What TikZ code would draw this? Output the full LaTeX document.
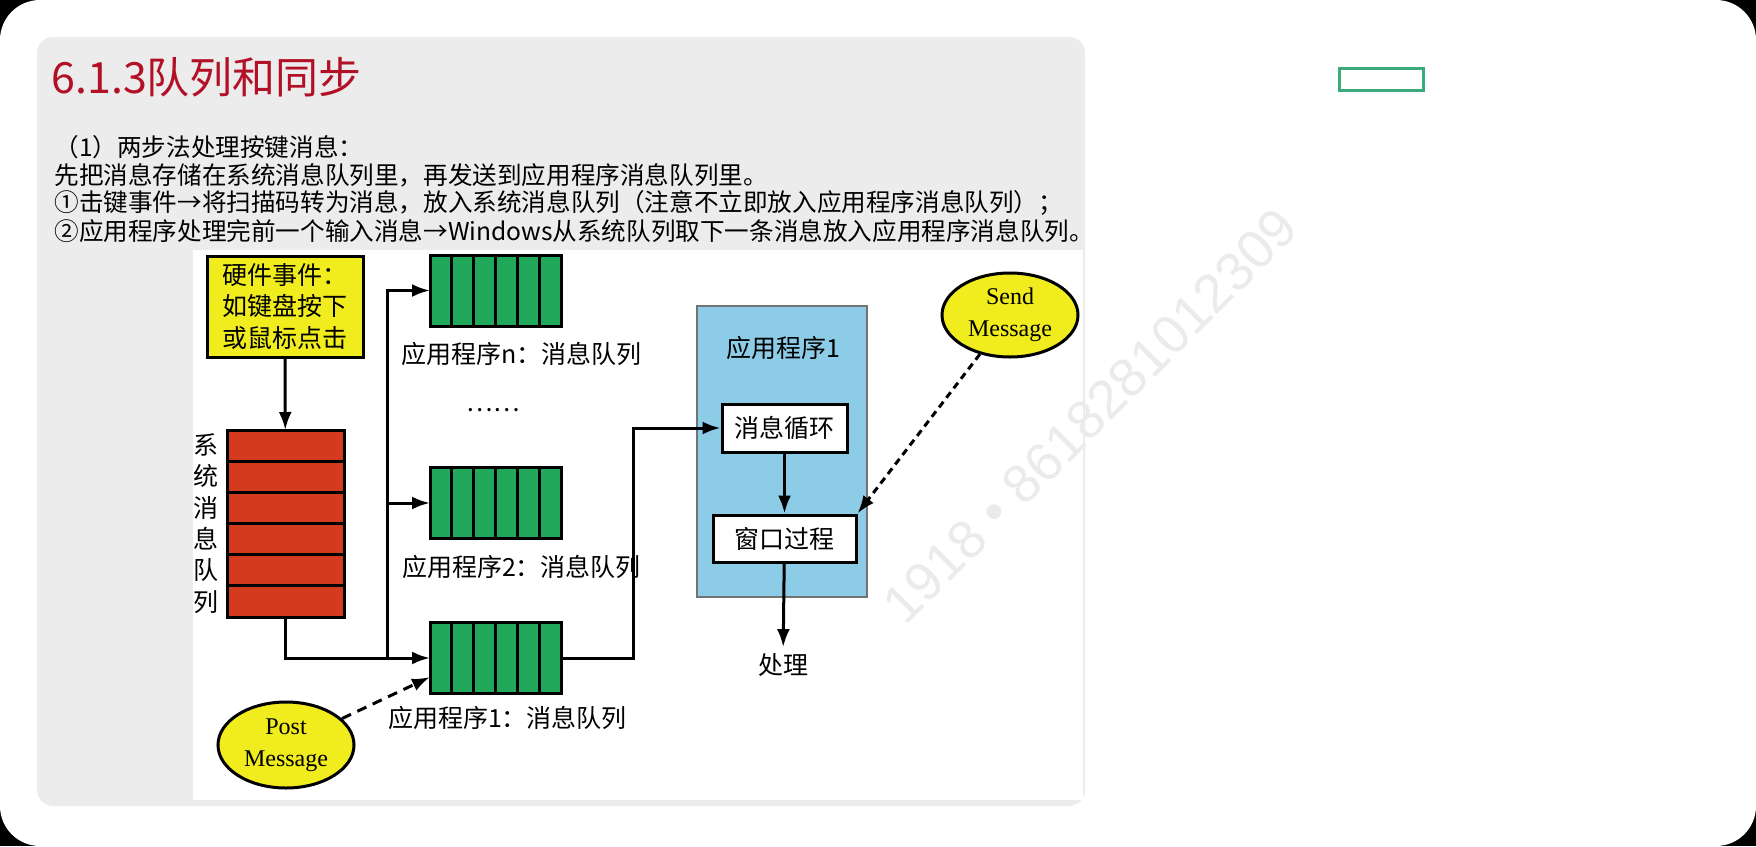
\documentclass[tikz,border=0pt]{standalone}
\usepackage{fontspec}
\setmainfont{Liberation Serif}
\newfontfamily\cjk{Noto Sans CJK SC}
\newfontfamily\wmfont{Liberation Sans}
\usepackage{tikz}
\usetikzlibrary{positioning, calc, shapes.geometric, arrows.meta}
\definecolor{titlered}{RGB}{178,16,38}
\definecolor{hwyellow}{RGB}{240,236,30}
\definecolor{sysred}{RGB}{212,58,30}
\definecolor{qgreen}{RGB}{34,168,90}
\definecolor{panelblue}{RGB}{140,204,230}
\definecolor{slidegray}{RGB}{236,236,236}
\definecolor{markteal}{RGB}{60,170,122}

\begin{document}
\begin{tikzpicture}[x=0.5pt, y=-0.5pt,
  textline/.style={anchor=west, inner sep=0, font=\cjk\fontsize{12.3}{14}\selectfont},
  hwbox/.style={rectangle, draw, line width=1.5pt, fill=hwyellow, minimum width=78pt, minimum height=50.5pt, inner sep=0, align=left, font=\cjk\fontsize{12.5}{15.75}\selectfont},
  sysqueue/.style={rectangle, draw, line width=1.5pt, fill=sysred, minimum width=58.5pt, minimum height=93.5pt, inner sep=0, outer sep=0},
  appqueue/.style={rectangle, draw, line width=1.5pt, fill=qgreen, minimum width=65.5pt, minimum height=35.5pt, inner sep=0, outer sep=0},
  qlabel/.style={inner sep=0, font=\cjk\fontsize{12.5}{15}\selectfont},
  panel/.style={rectangle, draw=black!55, line width=1pt, fill=panelblue, minimum width=85pt, minimum height=145.5pt, inner sep=0},
  msgbox/.style={rectangle, draw, line width=1.5pt, fill=white, inner sep=0, font=\cjk\fontsize{12.5}{15}\selectfont},
  bubble/.style={ellipse, draw, line width=1.5pt, fill=hwyellow, minimum width=68pt, minimum height=43pt, inner sep=0, align=center, font=\fontsize{12}{16}\selectfont},
  conn/.style={-{Latex[length=9pt, width=6.5pt]}, line width=1.5pt},
  postline/.style={conn, dash pattern=on 5pt off 3.5pt},
  sendline/.style={conn, dash pattern=on 3.5pt off 2.5pt}]
\useasboundingbox (0,0) rectangle (1756,846);
% screen frame and slide
\fill[black] (0,0) rectangle (1756,846);
\fill[white, rounded corners=20pt] (0,0) rectangle (1756,846);
\fill[slidegray, rounded corners=8pt] (37,37) rectangle (1085,806);
\fill[white] (193,250) rectangle (1083,800);
\draw[markteal, line width=1.5pt] (1339,68) rectangle (1423,90);
\node (mark) [rotate=45, text=black!8, font=\wmfont\fontsize{27}{30}\selectfont] at (1090,416) {1918 • 8618281012309};

% heading and text
\node (title) [anchor=west, inner sep=0, text=titlered, font=\cjk\fontsize{21.5}{25}\selectfont] at (51,77) {6.1.3队列和同步};
\node (l1) [textline] at (54,147) {（1）两步法处理按键消息：};
\node (l2) [textline] at (54,175) {先把消息存储在系统消息队列里，再发送到应用程序消息队列里。};
\node (l3) [textline] at (54,203) {①击键事件→将扫描码转为消息，放入系统消息队列（注意不立即放入应用程序消息队列）；};
\node (l4) [textline] at (54,231) {②应用程序处理完前一个输入消息→Windows从系统队列取下一条消息放入应用程序消息队列。};

% left side
\node (hw) [hwbox] at (285,306.5) {硬件事件：\\如键盘按下\\或鼠标点击};
\node (sysq) [sysqueue] at (285.5,523.5) {};
\node (syslabel) [left=4pt of sysq, inner sep=0, align=center, font=\cjk\fontsize{12.5}{15.7}\selectfont] {系\\统\\消\\息\\队\\列};
\foreach \i in {1,...,5}
  \draw[line width=1.5pt] ($(sysq.north west)!\i/6!(sysq.south west)$) -- ($(sysq.north east)!\i/6!(sysq.south east)$);
\node (post) [bubble] at (286,745) {Post\\Message};

% application queues
\node (qn) [appqueue] at (495.5,290.5) {};
\node (q2) [appqueue] at (495.5,503) {};
\node (q1) [appqueue] at (495.5,658) {};
\foreach \q in {qn,q2,q1}
  \foreach \i in {1,...,5}
    \draw[line width=1.5pt] ($(\q.north west)!\i/6!(\q.north east)$) -- ($(\q.south west)!\i/6!(\q.south east)$);
\node (qnl) [qlabel, below=8pt of qn, xshift=13pt] {应用程序n：消息队列};
\node (q2l) [qlabel, below=8pt of q2, xshift=13pt] {应用程序2：消息队列};
\node (q1l) [qlabel, below=6pt of q1, xshift=6pt] {应用程序1：消息队列};
\node (dots) [qlabel] at (493,410) {……};

% application 1
\node (app) [panel] at (782,451.5) {};
\node (appl) [qlabel] at (783,348) {应用程序1};
\node (loop) [msgbox, minimum width=62.5pt, minimum height=24pt] at (784.5,428) {消息循环};
\node (wnd) [msgbox, minimum width=71.5pt, minimum height=23.5pt] at (784.5,538.5) {窗口过程};
\node (proc) [qlabel, inner sep=3pt] at (783,665) {处理};
\node (send) [bubble, minimum height=42pt] at (1010,315) {Send\\Message};

% connectors
\coordinate (bus) at (387,658);
\draw[conn] (hw) -- (sysq);
\draw[conn] (sysq.south) |- (q1.west);
\draw[conn] (bus) |- (qn.west);
\draw[conn] (bus |- q2.west) -- (q2.west);
\draw[postline] (post) -- ($(q1.west)+(0,19)$);
\draw[conn] (q1.east) -- ++(72,0) |- (loop.west);
\draw[conn] (loop) -- (wnd);
\draw[conn] (wnd) -- (proc);
\draw[sendline] (send) -- (wnd.north east);
\end{tikzpicture}
\end{document}
